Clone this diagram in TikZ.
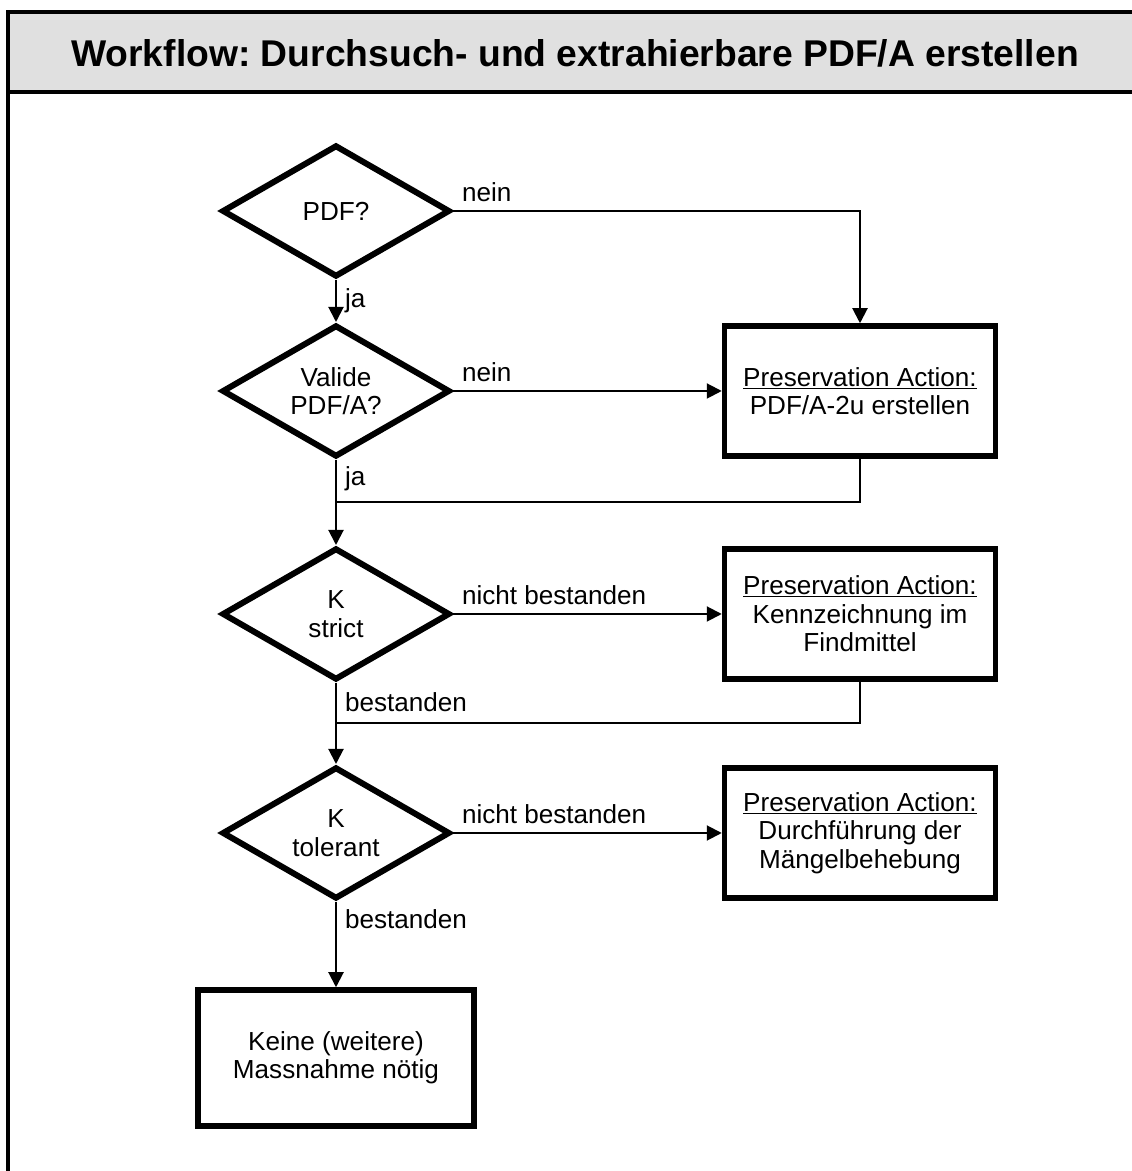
\documentclass[tikz,border=0pt]{standalone}
\usepackage{fontspec}
\setmainfont{Liberation Sans}
\frenchspacing
\usetikzlibrary{shapes.geometric,arrows.meta}

\begin{document}
\begin{tikzpicture}[>={Triangle[length=15bp,width=15bp]},line join=miter,
  every node/.style={font=\fontsize{26.2}{28.5}\selectfont},
  decision/.style={diamond,draw,line width=6bp,inner sep=0bp,aspect=1.73,
    minimum width=228bp,minimum height=132bp,align=center},
  action/.style={rectangle,draw,line width=5.5bp,minimum width=271bp,
    minimum height=130bp,align=center},
  lbl/.style={inner sep=8bp}]
  \pgfsetlinewidth{2bp}
  \useasboundingbox (0bp,0bp) rectangle (1132bp,1171bp);
  \clip (0bp,0bp) rectangle (1132bp,1171bp);
\begin{scope}
  \definecolor{fillcol}{rgb}{0.88,0.88,0.88};
  \pgfsetfillcolor{fillcol}
  \fill (8bp,1079bp) rectangle (1132bp,1159bp);
  \draw[line width=4bp] (8bp,-20bp) -- (8bp,1159bp) -- (1150bp,1159bp);
  \draw[line width=4bp] (8bp,1079bp) -- (1150bp,1079bp);
  \node[font=\fontsize{37.4}{40}\selectfont\bfseries] (title) at (575bp,1118bp)
    {Workflow: Durchsuch- und extrahierbare PDF/A erstellen};
\end{scope}
  % Node: pdf
  \node[decision] (pdf) at (336bp,960bp) {PDF?};
  % Node: valide
  \node[decision] (valide) at (336bp,780bp) {Valide\\PDF/A?};
  % Node: kstrict
  \node[decision] (kstrict) at (336bp,557bp) {K\\strict};
  % Node: ktol
  \node[decision] (ktol) at (336bp,338bp) {K\\tolerant};
  % Node: act1
  \node[action] (act1) at (860bp,780bp) {\underline{Preservation Action:}\\PDF/A-2u erstellen};
  % Node: act2
  \node[action] (act2) at (860bp,557bp) {\underline{Preservation Action:}\\Kennzeichnung im\\Findmittel};
  % Node: act3
  \node[action] (act3) at (860bp,338bp) {\underline{Preservation Action:}\\Durchführung der\\Mängelbehebung};
  % Node: keine
  \node[action,minimum width=276bp,minimum height=136bp] (keine) at (336bp,113bp) {Keine (weitere)\\Massnahme nötig};
  \coordinate (j1) at (336bp,669bp);
  \coordinate (j2) at (336bp,448bp);
  % Edge: pdf -> act1
  \draw [->] (pdf.east) -| node[lbl,above right,pos=0] {nein} (act1.north);
  % Edge: pdf -> valide
  \draw [->] (pdf.south) -- node[lbl,right] {ja} (valide.north);
  % Edge: valide -> act1
  \draw [->] (valide.east) -- node[lbl,above right,pos=0] {nein} (act1.west);
  % Edge: valide -> kstrict
  \draw [->] (valide.south) -- node[lbl,right,pos=0.22] {ja} (kstrict.north);
  % Edge: act1 -> j1
  \draw (act1.south) |- (j1);
  % Edge: kstrict -> act2
  \draw [->] (kstrict.east) -- node[lbl,above right,pos=0] {nicht bestanden} (act2.west);
  % Edge: kstrict -> ktol
  \draw [->] (kstrict.south) -- node[lbl,right,pos=0.24] {bestanden} (ktol.north);
  % Edge: act2 -> j2
  \draw (act2.south) |- (j2);
  % Edge: ktol -> act3
  \draw [->] (ktol.east) -- node[lbl,above right,pos=0] {nicht bestanden} (act3.west);
  % Edge: ktol -> keine
  \draw [->] (ktol.south) -- node[lbl,right,pos=0.2] {bestanden} (keine.north);
%
\end{tikzpicture}
\end{document}
